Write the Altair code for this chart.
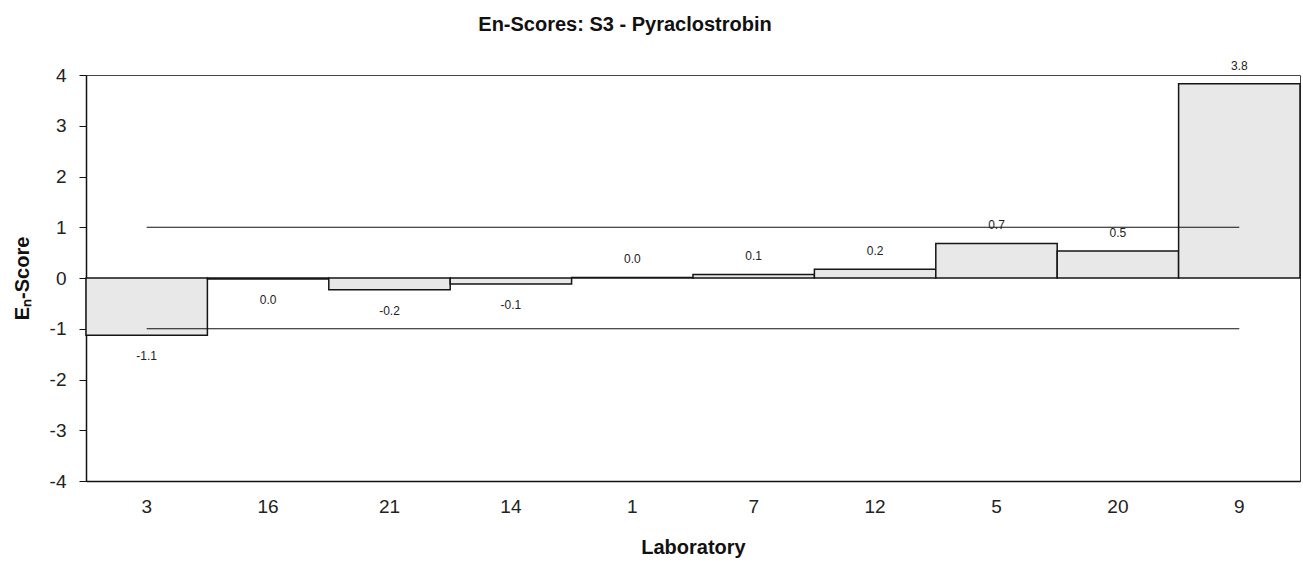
import altair as alt
import pandas as pd

# En-scores per laboratory, in plotting order
labs = ["3", "16", "21", "14", "1", "7", "12", "5", "20", "9"]
scores = [-1.13, -0.02, -0.23, -0.12, 0.01, 0.07, 0.17, 0.68, 0.53, 3.83]

# Acceptance limits |En| <= 1
limit_values = [1, -1]
y_ticks = [-4, -3, -2, -1, 0, 1, 2, 3, 4]


def one_decimal(v):
    s = f"{v:.1f}"
    return "0.0" if s == "-0.0" else s


bars_df = pd.DataFrame({"lab": labs, "score": scores})
bars_df["label"] = [one_decimal(v) for v in scores]

limits_df = pd.DataFrame({
    "lab": [labs[0]] * len(limit_values),
    "lab_end": [labs[-1]] * len(limit_values),
    "score": limit_values,
})

FONT = "Liberation Sans"

x_enc = alt.X(
    "lab:N",
    sort=labs,
    scale=alt.Scale(domain=labs, paddingInner=0, paddingOuter=0),
    axis=alt.Axis(
        title="Laboratory",
        labelAngle=0,
        ticks=False,
        labelFontSize=19,
        labelColor="#222222",
        labelPadding=16,
        titleFontSize=20,
        titleFontWeight="bold",
        titleColor="#111111",
        titlePadding=21,
        domainColor="#111111",
        domainWidth=1.5,
    ),
)

y_enc = alt.Y(
    "score:Q",
    scale=alt.Scale(domain=[-4, 4], nice=False, zero=False),
    axis=alt.Axis(
        title="Eₙ-Score",
        values=y_ticks,
        labelExpr="'' + datum.value",
        grid=False,
        tickSize=7,
        tickColor="#111111",
        labelFontSize=19,
        labelColor="#222222",
        labelPadding=13,
        titleFontSize=20,
        titleFontWeight="bold",
        titleColor="#111111",
        titlePadding=17,
        domainColor="#111111",
        domainWidth=1.5,
    ),
)

x_plain = alt.X("lab:N", sort=labs)

bars = alt.Chart(bars_df).mark_bar(
    fill="#e8e8e8", stroke="#151515", strokeWidth=1.5
).encode(x=x_enc, y=y_enc, y2=alt.datum(0))

limits = alt.Chart(limits_df).mark_rule(color="#111111", strokeWidth=1.2).encode(
    x=x_plain,
    x2="lab_end:N",
    y="score:Q",
)

labels_pos = alt.Chart(bars_df).transform_filter("datum.score >= 0").mark_text(
    dy=-18, fontSize=12, color="#222222", font=FONT
).encode(x=x_plain, y="score:Q", text="label:N")

labels_neg = alt.Chart(bars_df).transform_filter("datum.score < 0").mark_text(
    dy=21, fontSize=12, color="#222222", font=FONT
).encode(x=x_plain, y="score:Q", text="label:N")

chart = (
    alt.layer(bars, limits, labels_pos, labels_neg)
    .properties(
        width=1214,
        height=406,
        title=alt.TitleParams(
            "En-Scores: S3 - Pyraclostrobin",
            fontSize=20,
            fontWeight="bold",
            color="#111111",
            anchor="middle",
            frame="group",
            dx=-68,
            offset=25,
        ),
        autosize=alt.AutoSizeParams(type="none"),
        padding={"left": 86, "top": 75, "right": 3, "bottom": 84},
    )
    .configure(font=FONT)
    .configure_view(stroke="#444444", strokeWidth=1)
)

chart.save("out.html", embed_options={"renderer": "svg", "actions": False})
